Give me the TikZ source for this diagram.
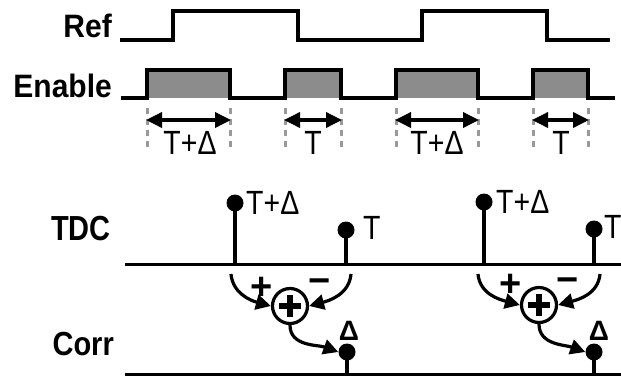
\documentclass[tikz,border=0pt]{standalone}
\usepackage{fontspec}
\setmainfont{Liberation Sans}
\usetikzlibrary{arrows.meta}
\newcommand{\tallx}[1]{\scalebox{0.95}[1.12]{#1}}
\begin{document}
\begin{tikzpicture}[x=1pt,y=-1pt,
  wave/.style={line width=3.5pt, line join=miter},
  pulse/.style={fill=black!45, draw=none},
  marker/.style={black!40, line width=3pt, dash pattern=on 6pt off 5pt},
  span/.style={line width=3.5pt, {Triangle[length=16pt,width=15pt]}-{Triangle[length=16pt,width=15pt]}},
  lbl/.style={font=\fontsize{30}{32}\selectfont, anchor=base, inner sep=0},
  sig/.style={font=\bfseries\fontsize{30}{32}\selectfont, anchor=base east, inner sep=0},
  axis/.style={line width=3pt},
  stem/.style={line width=3.5pt},
  dot/.style={circle, fill=black, inner sep=0, minimum size=17pt},
  summer/.style={circle, draw, line width=3.2pt, minimum size=35pt, inner sep=0},
  flow/.style={line width=3.2pt, -{Triangle[length=15pt,width=15pt]}},
  sgn/.style={font=\bfseries\fontsize{38}{40}\selectfont, inner sep=0}
]
\useasboundingbox (0,0) rectangle (621,376);

% signal names
\node[sig] (ref) at (112,37) {\scalebox{1}[1.08]{Ref}};
\node[sig] (en) at (112,97) {\scalebox{1}[1.08]{Enable}};
\node[sig, font=\bfseries\fontsize{29}{32}\selectfont] (tdc) at (111,240) {\scalebox{1}[1.2]{TDC}};
\node[sig, font=\bfseries\fontsize{29}{32}\selectfont] (corr) at (114,355) {\scalebox{1}[1.15]{Corr}};

% Ref waveform
\draw[wave] (120,40) -- (173,40) -- (173,11) -- (298,11) -- (298,40) -- (422,40) -- (422,11) -- (547,11) -- (547,40) -- (610,40);

% Enable waveform
\foreach \a/\b in {147/230, 285/341, 396/478, 533/588}
  \fill[pulse] (\a,70) rectangle (\b,98);
\draw[wave] (121,98) -- (147,98) -- (147,70) -- (230,70) -- (230,98) -- (285,98) -- (285,70) -- (341,70) -- (341,98)
  -- (396,98) -- (396,70) -- (478,70) -- (478,98) -- (533,98) -- (533,70) -- (588,70) -- (588,98) -- (615,98);

% interval markers
\foreach \x in {147,230,285,341,396,478,533,588}
  \draw[marker] (\x,108) -- (\x,150);

\coordinate (s1a) at (146,120); \coordinate (s1b) at (231,120);
\coordinate (s2a) at (284,120); \coordinate (s2b) at (342,120);
\coordinate (s3a) at (395,120); \coordinate (s3b) at (479,120);
\coordinate (s4a) at (532,120); \coordinate (s4b) at (589,120);
\draw[span] (s1a) -- (s1b);
\draw[span] (s2a) -- (s2b);
\draw[span] (s3a) -- (s3b);
\draw[span] (s4a) -- (s4b);

\node[lbl] (l1) at (190,154) {\tallx{T+Δ}};
\node[lbl] (l2) at (313,154) {\tallx{T}};
\node[lbl] (l3) at (437,154) {\tallx{T+Δ}};
\node[lbl] (l4) at (561,154) {\tallx{T}};

% TDC axis
\draw[axis] (125,264) -- (621,264);
\coordinate (bA) at (235,264); \coordinate (bB) at (346,264);
\coordinate (bC) at (484,264); \coordinate (bD) at (594,264);
\node[dot] (dA) at (235,203) {};
\node[dot] (dB) at (346,230) {};
\node[dot] (dC) at (484,202) {};
\node[dot] (dD) at (594,229) {};
\draw[stem] (bA) -- (dA.center);
\draw[stem] (bB) -- (dB.center);
\draw[stem] (bC) -- (dC.center);
\draw[stem] (bD) -- (dD.center);
\node[lbl, anchor=base west] (tA) at (246,214) {\tallx{T+Δ}};
\node[lbl, anchor=base west] (tB) at (363,239) {\tallx{T}};
\node[lbl, anchor=base west] (tC) at (496,213) {\tallx{T+Δ}};
\node[lbl, anchor=base west] (tD) at (604,238) {\tallx{T}};

% Corr axis
\draw[axis] (125,374) -- (621,374);
\coordinate (cbA) at (347,374); \coordinate (cbB) at (594,374);
\node[dot] (cA) at (347,352) {};
\node[dot] (cB) at (594,352) {};
\draw[stem] (cbA) -- (cA.center);
\draw[stem] (cbB) -- (cB.center);
\node[lbl, font=\bfseries\fontsize{28}{30}\selectfont] (dlA) at (349,340) {Δ};
\node[lbl, font=\bfseries\fontsize{28}{30}\selectfont] (dlB) at (599,340) {Δ};

% summers
\node[summer] (sumA) at (290,306) {};
\node[summer] (sumB) at (539,305) {};
\foreach \s in {sumA,sumB} {
  \draw[line width=5.5pt] ([xshift=-11pt]\s.center) -- ([xshift=11pt]\s.center);
  \draw[line width=5.5pt] ([yshift=-11pt]\s.center) -- ([yshift=11pt]\s.center);
}

\coordinate (iA1) at (231,274); \coordinate (iA2) at (351,274);
\coordinate (iB1) at (478,274); \coordinate (iB2) at (600,274);
\draw[flow] (iA1) to[out=-85, in=165] (sumA.west);
\draw[flow] (iA2) to[out=-95, in=15] (sumA.east);
\draw[flow] (iB1) to[out=-85, in=165] (sumB.west);
\draw[flow] (iB2) to[out=-95, in=15] (sumB.east);
\draw[flow] (sumA.south) to[out=-90, in=160] (cA.west);
\draw[flow] (sumB.south) to[out=-90, in=160] (cB.west);

\node[sgn] (pA) at (262,288) {+};
\node[sgn] (mA) at (320,286) {−};
\node[sgn] (pB) at (511,285) {+};
\node[sgn] (mB) at (568,285) {−};
\end{tikzpicture}
\end{document}
